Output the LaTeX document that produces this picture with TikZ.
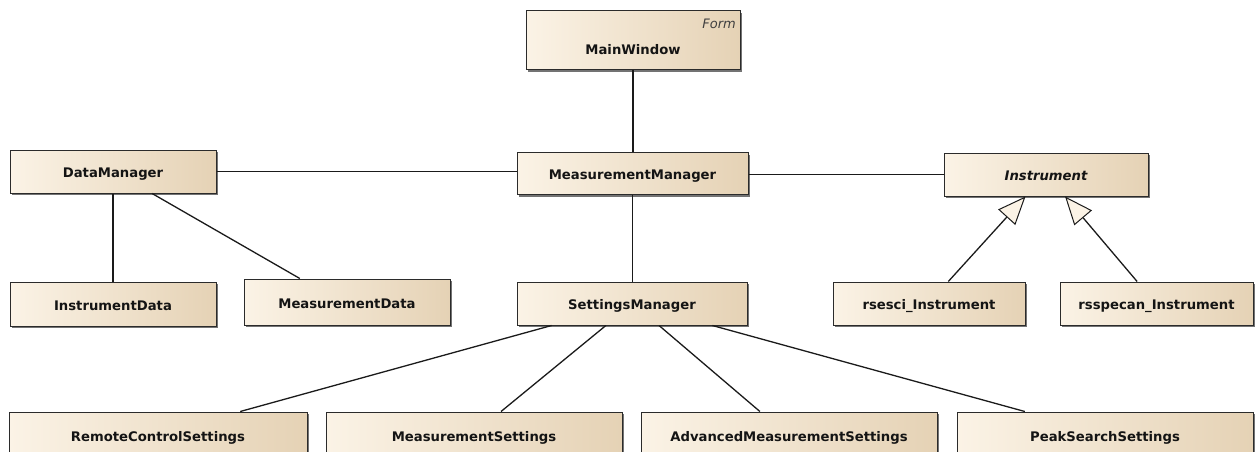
\documentclass[tikz,border=0pt]{standalone}
\usepackage{fontspec}
\setmainfont{DejaVu Sans}
\usetikzlibrary{arrows.meta,shadows,calc}
\definecolor{boxL}{HTML}{FBF3E6}
\definecolor{boxM}{HTML}{F5EBDA}
\definecolor{boxR}{HTML}{E5D2B5}
\definecolor{edge}{HTML}{2B2B2B}
\definecolor{lineC}{HTML}{1A1A1A}
\tikzset{
  lbl/.style={font=\fontsize{13.2}{15}\selectfont\bfseries, text=black!92},
  cls/.style={lbl, draw=edge, line width=1pt, left color=boxL, middle color=boxM, right color=boxR, inner sep=0pt,
    text height=12.5pt, text depth=0.5pt,
    drop shadow={shadow xshift=2pt, shadow yshift=-2pt, fill=black!55, opacity=1}},
  conn/.style={draw=lineC, line width=1.3pt},
  gen/.style={conn, -{Triangle[open, length=28pt, width=23pt, fill=boxL, line width=1pt]}},
}
\begin{document}
\begin{tikzpicture}[x=1pt,y=-1pt]
\useasboundingbox (0,0) rectangle (1255,452);
\clip (0,0) rectangle (1255,452);
% nodes
\node[cls, minimum width=214pt, minimum height=59pt] (mw) at (633,40.5) {};
\node[lbl] (mwt) at (633,50) {MainWindow};
\node[font=\fontsize{13}{15}\selectfont\itshape, text=black!75, anchor=east, inner sep=0pt] (mwf) at (736,24) {Form};
\node[cls, minimum width=206pt, minimum height=43pt] (dm) at (113,171.5) {DataManager};
\node[cls, minimum width=231pt, minimum height=42pt] (mm) at (632.5,173.5) {MeasurementManager};
\node[cls, minimum width=204pt, minimum height=43pt, font=\fontsize{13.2}{15}\selectfont\bfseries\itshape] (inst) at (1046,174.5) {Instrument};
\node[cls, minimum width=206pt, minimum height=44pt] (idata) at (113,304) {InstrumentData};
\node[cls, minimum width=206pt, minimum height=46pt] (mdata) at (347,302) {MeasurementData};
\node[cls, minimum width=230pt, minimum height=43pt] (sm) at (632,303.5) {SettingsManager};
\node[cls, minimum width=192pt, minimum height=43pt] (rsesci) at (929,303.5) {rsesci\_Instrument};
\node[cls, minimum width=193pt, minimum height=43pt] (rsspec) at (1156.5,303.5) {rsspecan\_Instrument};
\node[cls, minimum width=298pt, minimum height=46pt] (rcs) at (158,435) {RemoteControlSettings};
\node[cls, minimum width=296pt, minimum height=46pt] (ms) at (474,435) {MeasurementSettings};
\node[cls, minimum width=296pt, minimum height=46pt] (ams) at (789,435) {AdvancedMeasurementSettings};
\node[cls, minimum width=296pt, minimum height=46pt] (pss) at (1105,435) {PeakSearchSettings};
% connectors
\draw[conn] (mw.south) -- (mw.south |- mm.north);
\draw[conn] (dm.east) -- (dm.east -| mm.west);
\draw[conn] (mm.east |- inst.west) -- (inst.west);
\draw[conn] (mm.south) -- (mm.south |- sm.north);
\draw[conn] (dm.south) -- (dm.south |- idata.north);
\draw[conn] ($(dm.south west)!0.689!(dm.south east)$) -- ($(mdata.north west)!0.272!(mdata.north east)$);
\draw[gen] ($(rsesci.north west)!0.6!(rsesci.north east)$) -- ($(inst.south west)!0.40!(inst.south east)$);
\draw[gen] ($(rsspec.north west)!0.40!(rsspec.north east)$) -- ($(inst.south west)!0.593!(inst.south east)$);
\draw[conn] ($(sm.south west)!0.152!(sm.south east)$) -- ($(rcs.north west)!0.775!(rcs.north east)$);
\draw[conn] ($(sm.south west)!0.387!(sm.south east)$) -- ($(ms.north west)!0.591!(ms.north east)$);
\draw[conn] ($(sm.south west)!0.617!(sm.south east)$) -- ($(ams.north west)!0.402!(ams.north east)$);
\draw[conn] ($(sm.south west)!0.848!(sm.south east)$) -- ($(pss.north west)!0.23!(pss.north east)$);
\end{tikzpicture}
\end{document}
